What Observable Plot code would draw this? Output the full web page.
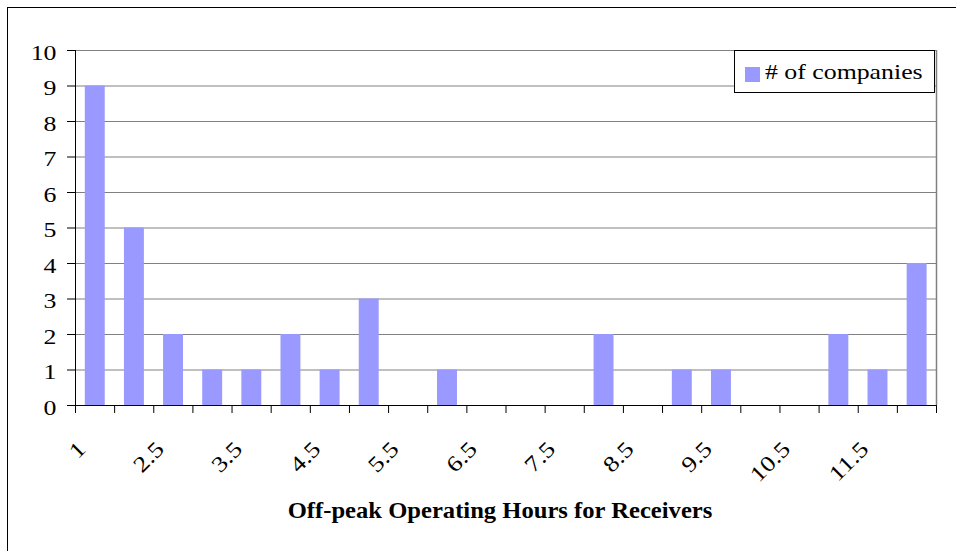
<!DOCTYPE html>
<html>
<head>
<meta charset="utf-8">
<script src="https://cdn.jsdelivr.net/npm/d3@7"></script>
<script src="https://cdn.jsdelivr.net/npm/@observablehq/plot@0.6"></script>
<style>
  body { margin: 0; background: #fff; }
  #wrap { position: relative; width: 956px; height: 551px; overflow: hidden; background: #fff;
          font-family: "Liberation Serif", "Times New Roman", serif; }
  #wrap svg { position: absolute; left: 0; top: 0; }
  #wrap svg text { font-family: "Liberation Serif", "Times New Roman", serif; }
  #border { position: absolute; left: 7px; top: 7px; width: 2000px; height: 2000px;
            border-left: 1.5px solid #000; border-top: 1.5px solid #000; pointer-events: none; }
  #legend { position: absolute; left: 734px; top: 50px; width: 199px; height: 41px;
            border: 1px solid #000; background: #fff; }
  #legend .sw { position: absolute; left: 10px; top: 16px; width: 15px; height: 15px; }
  #legend .lab { position: absolute; left: 30px; top: 11px; font-size: 21.5px; line-height: 1;
                 white-space: nowrap; color: #000; transform: scaleX(1.2); transform-origin: 0 0; }
</style>
</head>
<body>
<div id="wrap"><div id="border"></div></div>
<script>
// ---- data ----
const categories = ["1","2","2.5","3","3.5","4","4.5","5","5.5","6","6.5","7","7.5","8","8.5","9","9.5","10","10.5","11","11.5","12"];
const companies  = [9, 5, 2, 1, 1, 2, 1, 3, 0, 1, 0, 0, 0, 2, 0, 1, 1, 0, 0, 2, 1, 4];
const tickLabels = ["1","2.5","3.5","4.5","5.5","6.5","7.5","8.5","9.5","10.5","11.5"];
const yTicks = [0,1,2,3,4,5,6,7,8,9,10];
const seriesName = "# of companies";
const xTitle = "Off-peak Operating Hours for Receivers";
const barColor = "#9999FF";

const data = categories.map((c, i) => ({cat: c, i, value: companies[i]}));
const labelData = tickLabels.map(l => ({label: l, pos: categories.indexOf(l) + 0.5}));
const boundaries = d3.range(0, categories.length + 1);
const FONT = "Liberation Serif";

const plot = Plot.plot({
  width: 956,
  height: 551,
  marginLeft: 75,
  marginRight: 20,
  marginTop: 50,
  marginBottom: 146,
  style: {fontFamily: FONT, fontSize: "21.5px", color: "#000", background: "transparent", overflow: "visible"},
  x: {type: "linear", domain: [0, categories.length], axis: null},
  y: {domain: [0, 10], axis: null},
  marks: [
    Plot.gridY(yTicks, {stroke: "#808080", strokeOpacity: 1, strokeWidth: 1}),
    Plot.ruleX([categories.length], {stroke: "#808080", strokeWidth: 1.5}),
    Plot.rectY(data, {x1: "i", x2: d => d.i + 1, y: "value", fill: barColor, insetLeft: 9.8, insetRight: 9.4}),
    Plot.ruleY([0], {stroke: "#000"}),
    Plot.ruleX([0], {stroke: "#000"}),
    Plot.axisY({ticks: yTicks, tickSize: 8, tickFormat: () => "", label: null, stroke: "#000"}),
    Plot.axisY({ticks: yTicks, tickSize: 0, tickPadding: 19, dy: 2.5, label: null, fontSize: 21.5, fontFamily: FONT}),
    Plot.axisX({ticks: boundaries, tickSize: 8, tickFormat: () => "", label: null, stroke: "#000"}),
    Plot.text(labelData, {x: "pos", text: "label", frameAnchor: "bottom", rotate: -45, textAnchor: "end",
                          lineAnchor: "bottom", dx: -8, dy: 45, fontSize: 22, fontFamily: FONT, fill: "#000"}),
    Plot.text([xTitle], {text: d => d, frameAnchor: "bottom", lineAnchor: "bottom", dx: -6, dy: 112,
                         fontSize: 23, fontWeight: "bold", fontFamily: FONT, fill: "#000"})
  ]
});

const wrap = document.getElementById("wrap");
wrap.insertBefore(plot, wrap.firstChild);

// legend
const legend = document.createElement("div");
legend.id = "legend";
legend.innerHTML = `<div class="sw" style="background:${barColor}"></div><div class="lab"></div>`;
legend.querySelector(".lab").textContent = seriesName;
wrap.appendChild(legend);

// horizontal stretch of text to mimic the reference rendering
plot.querySelectorAll("text").forEach(t => {
  const s = t.textContent;
  if (!s) return;
  const k = s === xTitle ? 1.07 : 1.2;
  const L = t.getComputedTextLength();
  if (L > 0) {
    t.setAttribute("textLength", L * k);
    t.setAttribute("lengthAdjust", "spacingAndGlyphs");
  }
});
</script>
</body>
</html>
